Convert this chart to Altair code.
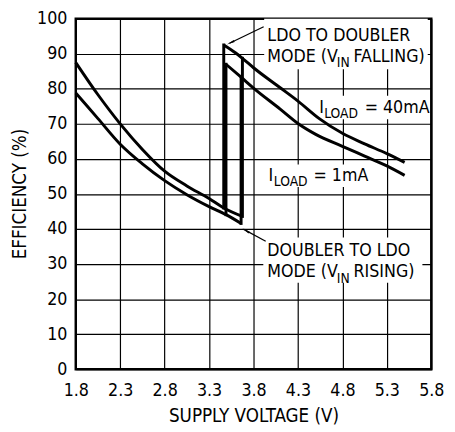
import altair as alt
import pandas as pd

FONT = "Liberation Sans Narrow, Arial Narrow, DejaVu Sans Condensed, sans-serif"

x_ticks = [1.8, 2.3, 2.8, 3.3, 3.8, 4.3, 4.8, 5.3, 5.8]
y_ticks = [0, 10, 20, 30, 40, 50, 60, 70, 80, 90, 100]

# doubler-mode curves (low supply)
dbl40_v = [1.8, 2.05, 2.3, 2.55, 2.8, 3.05, 3.3, 3.465, 3.675]
dbl40_e = [87.5, 78.3, 70.0, 62.7, 56.5, 52.3, 48.7, 46.0, 43.6]
dbl1_v = [1.8, 2.05, 2.3, 2.55, 2.8, 3.05, 3.3, 3.49, 3.66]
dbl1_e = [78.8, 71.5, 64.2, 58.6, 53.8, 49.8, 46.4, 44.1, 41.6]

# LDO-mode curves (high supply)
ldo40_v = [3.465, 3.6, 3.675, 3.8, 4.1, 4.3, 4.54, 4.8, 5.05, 5.3, 5.5]
ldo40_e = [92.5, 90.2, 88.7, 86.0, 80.3, 76.5, 71.5, 67.3, 64.3, 61.5, 59.0]
ldo1_v = [3.49, 3.66, 3.8, 4.1, 4.3, 4.5, 4.8, 5.05, 5.3, 5.5]
ldo1_e = [87.0, 83.3, 80.2, 74.2, 70.1, 67.0, 63.6, 60.8, 58.0, 55.3]

# mode transitions (vertical jumps)
jump_v = [3.465, 3.49, 3.675, 3.66]
jump_lo = [46.0, 44.1, 43.6, 41.6]
jump_hi = [92.5, 87.0, 88.7, 83.3]

# annotation text pieces
main_txt = ["LDO TO DOUBLER", "MODE (V", "FALLING)", "I", "= 40mA", "I", "= 1mA",
            "DOUBLER TO LDO", "MODE (V", "RISING)"]
main_v = [3.955, 3.955, 4.925, 4.54, 5.05, 3.969, 4.475, 3.955, 3.955, 4.925]
main_e = [93.6, 87.6, 87.6, 73.2, 73.2, 53.6, 53.6, 32.2, 26.2, 26.2]
sub_txt = ["IN", "LOAD", "LOAD", "IN"]
sub_v = [4.737, 4.595, 4.028, 4.737]
sub_e = [86.1, 71.8, 52.2, 24.7]

# white label backgrounds
box_v1 = [3.92, 4.51, 3.935, 3.91]
box_v2 = [5.76, 5.735, 5.06, 5.7]
box_e1 = [85.6, 71.3, 52.0, 24.7]
box_e2 = [100.0, 78.0, 58.4, 37.6]

# arrows
arr_v1 = [3.914, 3.937]
arr_e1 = [97.7, 36.5]
arr_v2 = [3.53, 3.69]
arr_e2 = [93.0, 39.9]
head_v = [3.555, 3.725]
head_e = [93.3, 39.4]
head_ang = [245, 304]

curves = pd.concat([
    pd.DataFrame({"v": dbl40_v, "e": dbl40_e, "s": "dbl40"}),
    pd.DataFrame({"v": dbl1_v, "e": dbl1_e, "s": "dbl1"}),
    pd.DataFrame({"v": ldo40_v, "e": ldo40_e, "s": "ldo40"}),
    pd.DataFrame({"v": ldo1_v, "e": ldo1_e, "s": "ldo1"}),
])
jumps = pd.DataFrame({"v": jump_v, "e": jump_lo, "e2": jump_hi})
mains = pd.DataFrame({"v": main_v, "e": main_e, "t": main_txt})
subs = pd.DataFrame({"v": sub_v, "e": sub_e, "t": sub_txt})
boxes = pd.DataFrame({"v": box_v1, "v2": box_v2, "e": box_e1, "e2": box_e2})
arrows = pd.DataFrame({"v": arr_v1, "v2": arr_v2, "e": arr_e1, "e2": arr_e2})
heads = pd.DataFrame({"v": head_v, "e": head_e, "a": head_ang})

xs = alt.Scale(domain=[1.8, 5.8], nice=False, zero=False)
ys = alt.Scale(domain=[0, 100], nice=False)

X = alt.X("v:Q", scale=xs, title="SUPPLY VOLTAGE (V)",
          axis=alt.Axis(values=x_ticks, format=".1f", title="SUPPLY VOLTAGE (V)",
                        titleX=181, titleY=53, titleBaseline="alphabetic",
                        labelBaseline="alphabetic", labelPadding=27, labelFlush=False))
Y = alt.Y("e:Q", scale=ys, title="EFFICIENCY (%)",
          axis=alt.Axis(values=y_ticks, title="EFFICIENCY (%)",
                        titleX=-51, titleY=178, titleBaseline="alphabetic",
                        titleAngle=270, titleAlign="center", labelPadding=9,
                        labelFlush=False))

bg = alt.Chart(boxes).mark_rect(color="white").encode(x=X, x2="v2:Q", y=Y, y2="e2:Q")
lines = alt.Chart(curves).mark_line(interpolate="monotone", color="black", strokeWidth=3).encode(
    x=X, y=Y, detail="s:N")
vert = alt.Chart(jumps).mark_rule(color="black", strokeWidth=3, strokeCap="square").encode(
    x=X, y=Y, y2="e2:Q")
arr = alt.Chart(arrows).mark_rule(color="black", strokeWidth=1.2).encode(
    x=X, x2="v2:Q", y=Y, y2="e2:Q")
hd = alt.Chart(heads).mark_point(shape="wedge", filled=True, color="black", size=90, opacity=1).encode(
    x=X, y=Y, angle=alt.Angle("a:Q", scale=None))
tmain = alt.Chart(mains).mark_text(align="left", baseline="alphabetic", font=FONT, fontSize=18,
                                   color="black").encode(x=X, y=Y, text="t:N")
tsub = alt.Chart(subs).mark_text(align="left", baseline="alphabetic", font=FONT, fontSize=14,
                                 color="black").encode(x=X, y=Y, text="t:N")

chart = alt.layer(bg, lines, vert, arr, hd, tmain, tsub).properties(
    width=362, height=357, autosize="none",
    padding={"left": 69, "top": 7, "right": 16, "bottom": 60},
).configure_view(stroke="black", strokeWidth=2.5).configure_axis(
    grid=True, gridColor="black", gridWidth=1.2, gridOpacity=1,
    domain=False, ticks=False, tickSize=0,
    labelFont=FONT, labelFontSize=18, labelColor="black",
    titleFont=FONT, titleFontSize=19, titleFontWeight="normal", titleColor="black",
)

chart.save("out.html", embed_options={"renderer": "svg", "actions": False})
